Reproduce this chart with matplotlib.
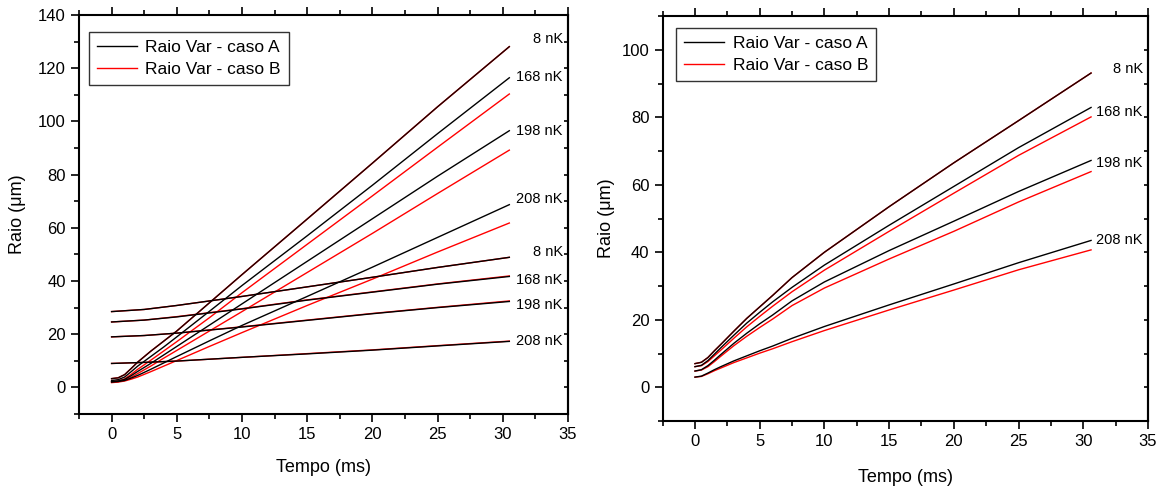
import matplotlib
matplotlib.use("Agg")
import matplotlib.pyplot as plt
from matplotlib.ticker import MultipleLocator

plt.rcParams['font.family'] = ['Liberation Sans', 'DejaVu Sans']

# ---- left panel: steep (radial) and slow (axial) curves ----
t_left = [0, 0.5, 1, 1.5, 2, 3, 4, 5, 7.5, 10, 15, 20, 25, 30.5]
left_A = {
    "8 nK":   [3.3, 3.6, 4.8, 7.1, 9.5, 13.6, 17.4, 21.2, 31.8, 42.4, 63.3, 84.3, 105.5, 128.1],
    "168 nK": [2.6, 2.9, 3.9, 5.9, 8.0, 11.6, 15.2, 19.0, 28.6, 38.3, 57.0, 76.0, 95.4, 116.4],
    "198 nK": [2.2, 2.4, 3.0, 4.4, 6.0, 9.0, 12.2, 15.4, 23.4, 31.4, 47.4, 63.4, 79.4, 96.5],
    "208 nK": [2.0, 2.2, 2.6, 3.5, 4.5, 6.8, 9.2, 11.6, 17.5, 23.3, 34.2, 45.2, 56.4, 68.7],
}
left_B = {
    "8 nK":   [3.3, 3.6, 4.8, 7.1, 9.5, 13.6, 17.4, 21.2, 31.8, 42.4, 63.3, 84.3, 105.5, 128.1],
    "168 nK": [2.2, 2.4, 3.2, 4.9, 6.8, 10.2, 13.7, 17.2, 26.2, 35.6, 53.8, 72.0, 90.3, 110.3],
    "198 nK": [2.0, 2.2, 2.7, 3.8, 5.2, 8.0, 11.0, 13.9, 21.2, 28.5, 43.2, 57.9, 72.9, 89.2],
    "208 nK": [1.8, 2.0, 2.4, 3.1, 3.9, 5.9, 8.0, 10.1, 15.4, 20.6, 30.8, 40.7, 50.9, 61.8],
}

t_flat = [0, 2.5, 5, 10, 15, 20, 25, 30.5]
flat_A = {
    "8 nK":   [28.5, 29.3, 30.8, 34.2, 37.8, 41.4, 45.1, 48.9],
    "168 nK": [24.6, 25.3, 26.5, 29.5, 32.8, 35.8, 38.8, 41.7],
    "198 nK": [19.0, 19.5, 20.4, 22.7, 25.2, 27.7, 30.0, 32.3],
    "208 nK": [9.0, 9.4, 9.9, 11.3, 12.6, 14.0, 15.6, 17.3],
}
flat_B = {
    "8 nK":   [28.5, 29.3, 30.8, 34.2, 37.8, 41.4, 45.1, 48.9],
    "168 nK": [24.6, 25.3, 26.6, 29.6, 32.9, 35.9, 38.9, 41.9],
    "198 nK": [19.0, 19.5, 20.4, 22.8, 25.3, 27.8, 30.1, 32.5],
    "208 nK": [9.0, 9.4, 9.9, 11.3, 12.7, 14.1, 15.7, 17.4],
}
labels_left = ["8 nK", "168 nK", "198 nK", "208 nK", "8 nK", "168 nK", "198 nK", "208 nK"]
labels_left_y = [131, 116.7, 96.4, 70.9, 51, 40.5, 30.8, 17.3]

# ---- right panel ----
t_right = [0, 0.5, 1, 1.5, 2, 3, 4, 5, 6, 7.5, 10, 15, 20, 25, 30.6]
right_A = {
    "8 nK":   [7.0, 7.4, 8.8, 10.8, 12.7, 16.6, 20.4, 23.8, 27.2, 32.5, 40.0, 53.5, 66.5, 79.0, 93.1],
    "168 nK": [6.1, 6.5, 7.9, 9.8, 11.7, 15.4, 19.0, 22.2, 25.3, 29.6, 36.2, 48.0, 59.5, 71.0, 82.9],
    "198 nK": [4.8, 5.2, 6.4, 8.0, 9.7, 13.0, 16.0, 18.8, 21.4, 25.6, 31.2, 40.5, 49.2, 58.0, 67.2],
    "208 nK": [3.0, 3.3, 4.2, 5.2, 6.1, 7.8, 9.3, 10.8, 12.2, 14.5, 18.0, 24.4, 30.6, 36.9, 43.5],
}
right_B = {
    "8 nK":   [7.0, 7.4, 8.8, 10.8, 12.7, 16.6, 20.4, 23.8, 27.2, 32.5, 40.0, 53.5, 66.5, 79.0, 93.1],
    "168 nK": [6.1, 6.4, 7.6, 9.3, 11.0, 14.5, 17.9, 21.0, 24.0, 28.3, 34.7, 46.2, 57.5, 68.7, 80.1],
    "198 nK": [4.8, 5.1, 6.1, 7.6, 9.2, 12.3, 15.1, 17.7, 20.2, 24.2, 29.4, 38.0, 46.2, 54.9, 63.9],
    "208 nK": [3.0, 3.2, 4.0, 4.9, 5.7, 7.3, 8.7, 10.1, 11.4, 13.5, 16.8, 22.9, 28.8, 34.8, 40.7],
}
labels_right = ["8 nK", "168 nK", "198 nK", "208 nK"]
labels_right_y = [94.3, 81.7, 66.5, 43.7]

W, H = 1157, 491
fig = plt.figure(figsize=(W / 100, H / 100), dpi=100)

def px_axes(l, t, r, b):
    return fig.add_axes([l / W, 1 - b / H, (r - l) / W, (b - t) / H])

def style(ax, ymax, ymajor):
    ax.set_xlim(-2.5, 35)
    ax.set_ylim(-10, ymax)
    ax.xaxis.set_major_locator(MultipleLocator(5))
    ax.xaxis.set_minor_locator(MultipleLocator(2.5))
    ax.yaxis.set_major_locator(MultipleLocator(ymajor))
    ax.yaxis.set_minor_locator(MultipleLocator(ymajor / 2))
    ax.tick_params(which='both', direction='out', top=True, right=False, width=1.2, labelsize=12)
    ax.tick_params(which='major', length=6)
    ax.tick_params(which='minor', length=3.5)
    for s in ax.spines.values():
        s.set_linewidth(1.5)
    # right axis ticks point inwards
    sec = ax.secondary_yaxis('right')
    sec.yaxis.set_major_locator(MultipleLocator(ymajor))
    sec.yaxis.set_minor_locator(MultipleLocator(ymajor / 2))
    sec.tick_params(which='both', direction='in', length=3, width=1.2, labelright=False)
    sec.spines['right'].set_linewidth(1.5)
    ax.set_xlabel("Tempo (ms)", fontsize=13)
    ax.set_ylabel("Raio (μm)", fontsize=13)

def legend(ax, x0, y0):
    h1, = ax.plot([], [], color='black', lw=1.0, label="Raio Var - caso A")
    h2, = ax.plot([], [], color='red', lw=1.0, label="Raio Var - caso B")
    leg = ax.legend(handles=[h1, h2], loc='upper left', bbox_to_anchor=(x0, y0),
                    fontsize=12.5, frameon=True, fancybox=False, handlelength=2.3,
                    borderpad=0.45, labelspacing=0.4, handletextpad=0.5, borderaxespad=0)
    leg.get_frame().set_edgecolor('black')
    leg.get_frame().set_linewidth(1.0)

# left
ax1 = px_axes(79, 15, 568, 414)
for k in left_B:
    ax1.plot(t_left, left_B[k], color='red', lw=1.0)
    ax1.plot(t_flat, flat_B[k], color='red', lw=1.0)
for k in left_A:
    if k == "8 nK":
        ax1.plot(t_left, left_A[k], color='#200000', lw=1.0)
    else:
        ax1.plot(t_left, left_A[k], color='black', lw=1.0)
    ax1.plot(t_flat, flat_A[k], color='black', lw=1.0)
for lab, y in zip(labels_left, labels_left_y):
    ax1.text(34.6, y, lab, ha='right', va='center', fontsize=10.5)
style(ax1, 140, 20)
ax1.yaxis.set_label_coords(-0.108, 0.5)
ax1.xaxis.set_label_coords(0.5, -0.113)
legend(ax1, 0.02, 0.957)

# right
ax2 = px_axes(662.6, 16, 1148, 421)
for k in right_B:
    ax2.plot(t_right, right_B[k], color='red', lw=1.0)
for k in right_A:
    ax2.plot(t_right, right_A[k], color='#200000' if k == "8 nK" else 'black', lw=1.0)
for lab, y in zip(labels_right, labels_right_y):
    ax2.text(34.6, y, lab, ha='right', va='center', fontsize=10.5)
style(ax2, 110, 20)
ax2.yaxis.set_label_coords(-0.098, 0.5)
ax2.xaxis.set_label_coords(0.5, -0.118)
legend(ax2, 0.028, 0.97)

plt.savefig("out.png", dpi=100)
